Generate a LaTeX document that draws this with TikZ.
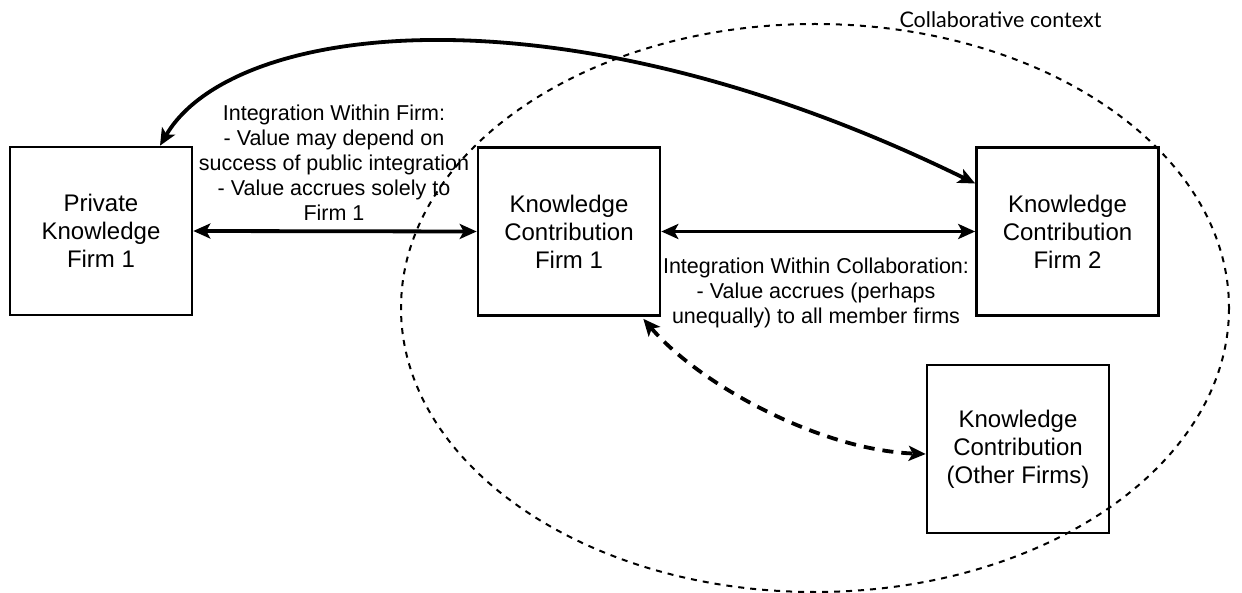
\documentclass[tikz,border=0pt]{standalone}
\usepackage{fontspec}
\setmainfont{Liberation Sans}
\newfontfamily\gillfont{Lato}
\usetikzlibrary{arrows.meta,calc}

\begin{document}
\begin{tikzpicture}[x=1pt,y=-1pt,
  box/.style={draw, line width=2.6pt, minimum width=182pt, minimum height=168pt,
    inner sep=0pt, align=center, font=\fontsize{24}{28}\selectfont},
  lbl/.style={align=center, inner sep=0pt, font=\fontsize{21.5}{25}\selectfont},
  tip/.style={Stealth[length=17pt,width=15pt,inset=4pt]},
  conn/.style={line width=3.8pt, {Stealth[length=17pt,width=15pt,inset=4pt]}-{Stealth[length=17pt,width=15pt,inset=4pt]}},
  dconn/.style={conn, dash pattern=on 11pt off 8pt},
  ctx/.style={line width=2pt, dash pattern=on 6pt off 6pt}
]
\useasboundingbox (0,0) rectangle (1242,593);
\fill[white] (0,0) rectangle (1242,593);

% the four knowledge boxes
\node[box] (pk)  at (101,231)    {Private\\Knowledge\\Firm 1};
\node[box] (kc1) at (569,231.5)  {Knowledge\\Contribution\\Firm 1};
\node[box] (kc2) at (1067.5,231.5) {Knowledge\\Contribution\\Firm 2};
\node[box] (oth) at (1018,449)   {Knowledge\\Contribution\\(Other Firms)};

% edge labels
\node[lbl] (lfirm) at (334,163) {Integration Within Firm:\\- Value may depend on\\success of public integration\\- Value accrues solely to\\Firm 1};
\node[lbl] (lcoll) at (816,292.5) {Integration Within Collaboration:\\- Value accrues (perhaps\\unequally) to all member firms};

% connectors
\draw[conn] (pk.east) -- (kc1.west);
\draw[conn] (kc1.east) -- (kc2.west);
\coordinate (pktop) at ($(pk.north)+(59,0)$);
\coordinate (kc2in) at ($(kc2.west)+(0,-48)$);
\draw[conn] (pktop) .. controls (232,22) and (560,-20) .. (kc2in);
\coordinate (kc1bot) at ($(kc1.south east)+(-18,2)$);
\coordinate (othin) at ($(oth.west)+(0,5)$);
\draw[dconn] (kc1bot) .. controls (700,385) and (820,450) .. (othin);

% collaborative context
\draw[ctx] (815,308) ellipse [x radius=414, y radius=284];
\node[anchor=base, inner sep=0pt, font=\gillfont\fontsize{21.5}{25}\selectfont] (ctxlbl) at (1000.5,28) {Collaborative context};
\end{tikzpicture}
\end{document}
